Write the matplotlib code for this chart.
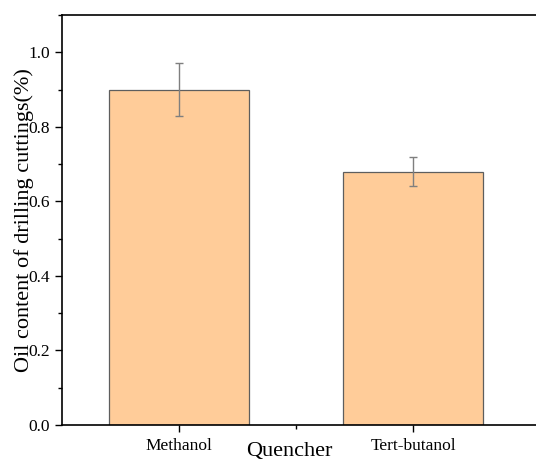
import matplotlib
matplotlib.use('Agg')
import matplotlib.pyplot as plt
import numpy as np
from matplotlib.ticker import MultipleLocator, FixedLocator

plt.rcParams['font.family'] = ['Liberation Serif', 'DejaVu Serif']

# data
quenchers = ['Methanol', 'Tert-butanol']
oil = [0.90, 0.68]
err = [0.07, 0.04]

fig = plt.figure(figsize=(5.36, 4.62), dpi=100)
W, H = 536, 462
ax = fig.add_axes([62 / W, 1 - 425 / H, 480 / W, 410 / H])

x = np.arange(1, len(quenchers) + 1)
ax.bar(x, oil, width=0.6, color='#FFCC99', edgecolor='#5e5e5e', linewidth=0.9, zorder=2)
ax.errorbar(x, oil, yerr=err, fmt='none', ecolor='#7f7f7f', elinewidth=1.0,
            capsize=3, capthick=1.0, zorder=3)

ax.set_xlim(0.5, 0.5 + 480 / 234)
ax.set_ylim(0, 1.1)
ax.set_xticks(x)
ax.set_xticklabels(quenchers, fontsize=12.5)
ax.xaxis.set_minor_locator(FixedLocator([1.5]))
ax.yaxis.set_minor_locator(MultipleLocator(0.1))
ax.set_yticks([0, 0.2, 0.4, 0.6, 0.8, 1.0])
ax.set_yticklabels(['0.0', '0.2', '0.4', '0.6', '0.8', '1.0'], fontsize=12.5)
ax.tick_params(which='major', direction='out', length=5, width=1)
ax.tick_params(which='minor', direction='out', length=3, width=1)
ax.tick_params(axis='x', pad=4)

ax.set_ylabel('Oil content of drilling cuttings(%)', fontsize=16)
ax.yaxis.set_label_coords(-0.058, 0.5)
ax.set_xlabel('Quencher', fontsize=16)
ax.xaxis.set_label_coords((289 - 62) / 480, -0.042)

for s in ax.spines.values():
    s.set_linewidth(1.2)

fig.savefig('out.png', dpi=100)
